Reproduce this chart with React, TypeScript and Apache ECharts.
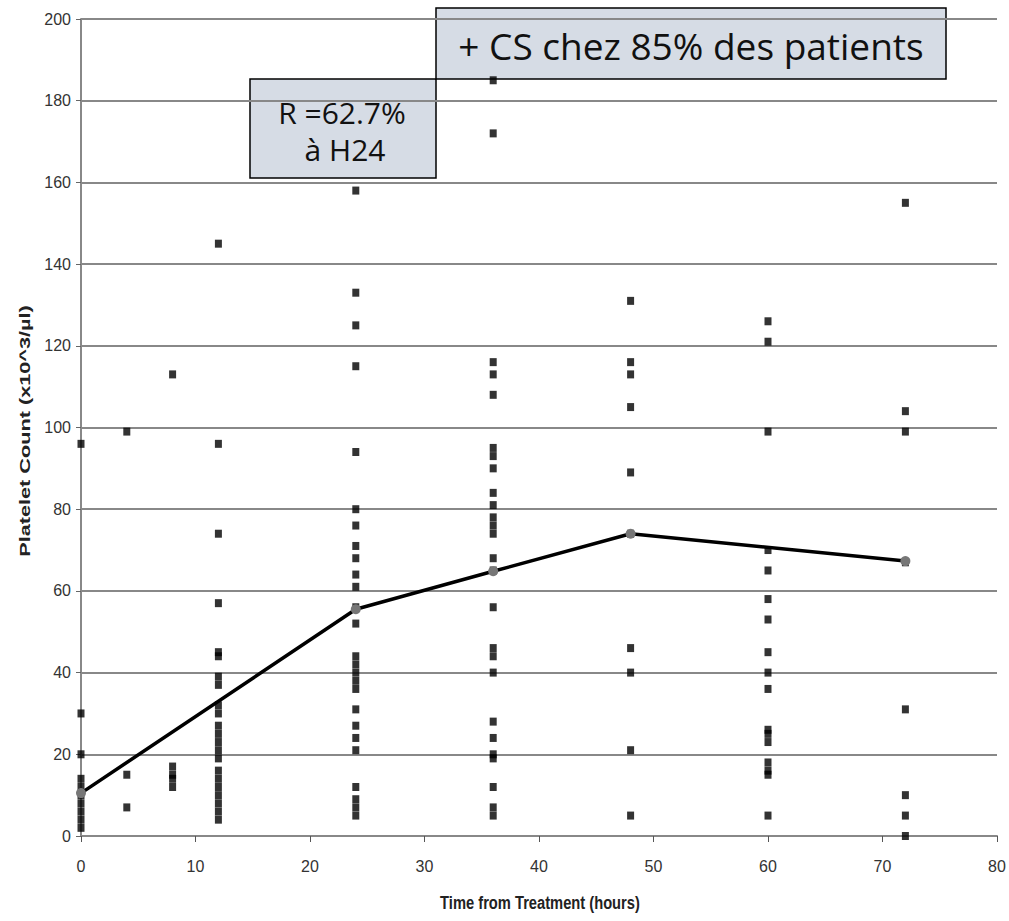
import React, { useEffect, useRef } from "react";
import * as echarts from "echarts";

// Individual platelet counts (x10^3/µl) per time point (hours)
const h0 = [96, 30, 20, 14, 12, 10, 8, 6, 4, 2];
const h4 = [99, 15, 7];
const h8 = [113, 17, 15, 14, 12];
const h12 = [145, 96, 74, 57, 45, 44, 39, 37, 32, 30, 27, 25, 23, 21, 19, 16, 14, 12, 10, 8, 6, 4];
const h24 = [158, 133, 125, 115, 94, 80, 76, 71, 68, 64, 61, 56, 52, 44, 42, 40, 38, 36, 31, 27, 24, 21, 12, 9, 7, 5];
const h36 = [185, 172, 116, 113, 108, 95, 93, 90, 84, 81, 78, 76, 74, 68, 65, 56, 46, 44, 40, 28, 24, 20, 19, 12, 7, 5];
const h48 = [131, 116, 113, 105, 89, 74, 46, 40, 21, 5];
const h60 = [126, 121, 99, 70, 65, 58, 53, 45, 40, 36, 26, 25, 23, 18, 16, 15, 5];
const h72 = [155, 104, 99, 67, 31, 10, 5, 0];

const timePoints = [0, 4, 8, 12, 24, 36, 48, 60, 72];
const columns = [h0, h4, h8, h12, h24, h36, h48, h60, h72];

// Mean curve
const meanTimes = [0, 24, 36, 48, 72];
const meanValues = [10.5, 55.5, 64.8, 74, 67.3];

const xTitle = "Time from Treatment (hours)";
const yTitle = "Platelet Count (x10^3/µl)";
const note1 = "+ CS chez 85% des patients";
const note2a = "R =62.7%";
const note2b = "à H24";

export default function App() {
  const ref = useRef<HTMLDivElement>(null);
  useEffect(() => {
    document.body.style.margin = "0";
    const chart = echarts.init(ref.current!, null, { renderer: "svg" });
    const scatterData: number[][] = [];
    columns.forEach((col, i) => col.forEach((v) => scatterData.push([timePoints[i], v])));
    const lineData = meanTimes.map((t, i) => [t, meanValues[i]]);
    const tickFont = {
      color: "#333",
      fontSize: 16,
      fontFamily: "'Liberation Sans Narrow', 'Liberation Sans', Arial, sans-serif",
    };
    const noteFont = "'Open Sans', 'Noto Sans', sans-serif";
    chart.setOption({
      animation: false,
      backgroundColor: "#fff",
      grid: { left: 81, right: 12, top: 19, bottom: 85 },
      xAxis: {
        type: "value",
        min: 0,
        max: 80,
        interval: 10,
        axisLine: { show: true, lineStyle: { color: "#888", width: 2 } },
        axisTick: { show: true, length: 6, inside: false, lineStyle: { color: "#555", width: 1 } },
        axisLabel: { ...tickFont, margin: 22 },
        splitLine: { show: false },
      },
      yAxis: {
        type: "value",
        min: 0,
        max: 200,
        interval: 20,
        axisLine: { show: true, lineStyle: { color: "#888", width: 2 } },
        axisTick: { show: true, length: 5, lineStyle: { color: "#666", width: 1 } },
        axisLabel: { ...tickFont, margin: 10 },
        splitLine: { show: true, lineStyle: { color: "#888", width: 2 } },
      },
      series: [
        {
          type: "scatter",
          data: scatterData,
          symbol: "rect",
          symbolSize: [7, 8],
          itemStyle: { color: "#000" },
          z: 3,
        },
        {
          type: "line",
          data: lineData,
          symbol: "circle",
          symbolSize: 10,
          showSymbol: true,
          lineStyle: { color: "#000", width: 3.5 },
          itemStyle: { color: "#777", borderWidth: 0 },
          z: 4,
        },
      ],
      graphic: [
        {
          type: "text",
          x: 25,
          y: 431,
          rotation: Math.PI / 2,
          scaleX: 1.55,
          scaleY: 1.1,
          style: {
            text: yTitle,
            fill: "#222",
            fontSize: 14,
            fontWeight: "bold",
            fontFamily: "'Liberation Sans', Arial, sans-serif",
            align: "center",
            verticalAlign: "middle",
          },
        },
        {
          type: "text",
          x: 540,
          y: 903,
          scaleX: 1.05,
          scaleY: 1.35,
          style: {
            text: xTitle,
            fill: "#222",
            fontSize: 14,
            fontWeight: "bold",
            fontFamily: "'Liberation Sans', Arial, sans-serif",
            align: "center",
            verticalAlign: "middle",
          },
        },
        {
          type: "group",
          z: 100,
          children: [
            {
              type: "rect",
              shape: { x: 250, y: 79, width: 186, height: 99 },
              style: { fill: "#d6dce5", stroke: "#000", lineWidth: 1.5 },
            },
            {
              type: "text",
              x: 342,
              y: 112,
              style: {
                text: note2a,
                fill: "#111",
                fontSize: 30,
                fontFamily: noteFont,
                align: "center",
                verticalAlign: "middle",
              },
            },
            {
              type: "text",
              x: 345,
              y: 149,
              style: {
                text: note2b,
                fill: "#111",
                fontSize: 30,
                fontFamily: noteFont,
                align: "center",
                verticalAlign: "middle",
              },
            },
            {
              type: "rect",
              shape: { x: 436, y: 8, width: 510, height: 71 },
              style: { fill: "#d6dce5", stroke: "#000", lineWidth: 1.5 },
            },
            {
              type: "text",
              x: 691,
              y: 45,
              style: {
                text: note1,
                fill: "#111",
                fontSize: 37,
                fontFamily: noteFont,
                align: "center",
                verticalAlign: "middle",
              },
            },
          ],
        },
      ],
    });
    return () => chart.dispose();
  }, []);
  return (
    <div
      ref={ref}
      style={{ position: "absolute", left: 0, top: 0, width: 1009, height: 921 }}
    />
  );
}
